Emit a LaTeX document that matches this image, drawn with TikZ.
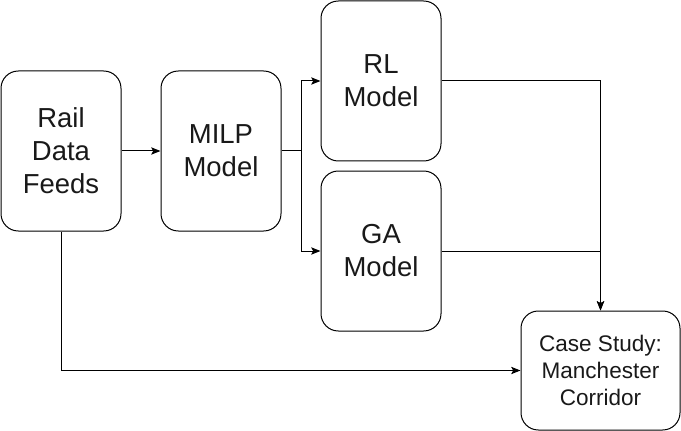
\documentclass[tikz,border=0pt]{standalone}
\usepackage{fontspec}
\setmainfont{Liberation Sans}
\usetikzlibrary{arrows.meta}
\begin{document}
\begin{tikzpicture}[x=0.75pt,y=-0.75pt,
  box/.style={draw=black, line width=0.75pt, rounded corners=13pt, align=center, inner sep=0pt,
    minimum width=90pt, minimum height=120pt, text=black!90,
    font=\fontsize{20.6}{24.75}\selectfont},
  casebox/.style={box, minimum width=119.25pt, minimum height=89.25pt,
    font=\fontsize{16.9}{20.25}\selectfont},
  arr/.style={draw=black, line width=0.75pt, -{Stealth[length=7pt,width=5.5pt,inset=1.5pt]}}]
\useasboundingbox (0,0) rectangle (681,431);
\node[box] (rail) at (61,151) {Rail\\Data\\Feeds};
\node[box] (milp) at (221,151) {MILP\\Model};
\node[box] (rl) at (381,81) {RL\\Model};
\node[box] (ga) at (381,251) {GA\\Model};
\node[casebox] (case) at (600.5,370.5) {Case Study:\\Manchester\\Corridor};
\draw[arr] (rail.east) -- (milp.west);
\draw[arr] (milp.east) -- ++(20,0) |- (rl.west);
\draw[arr] (milp.east) -- ++(20,0) |- (ga.west);
\draw[arr] (rl.east) -| (case.north);
\draw[arr] (ga.east) -| (case.north);
\draw[arr] (rail.south) |- (case.west);
\end{tikzpicture}
\end{document}
